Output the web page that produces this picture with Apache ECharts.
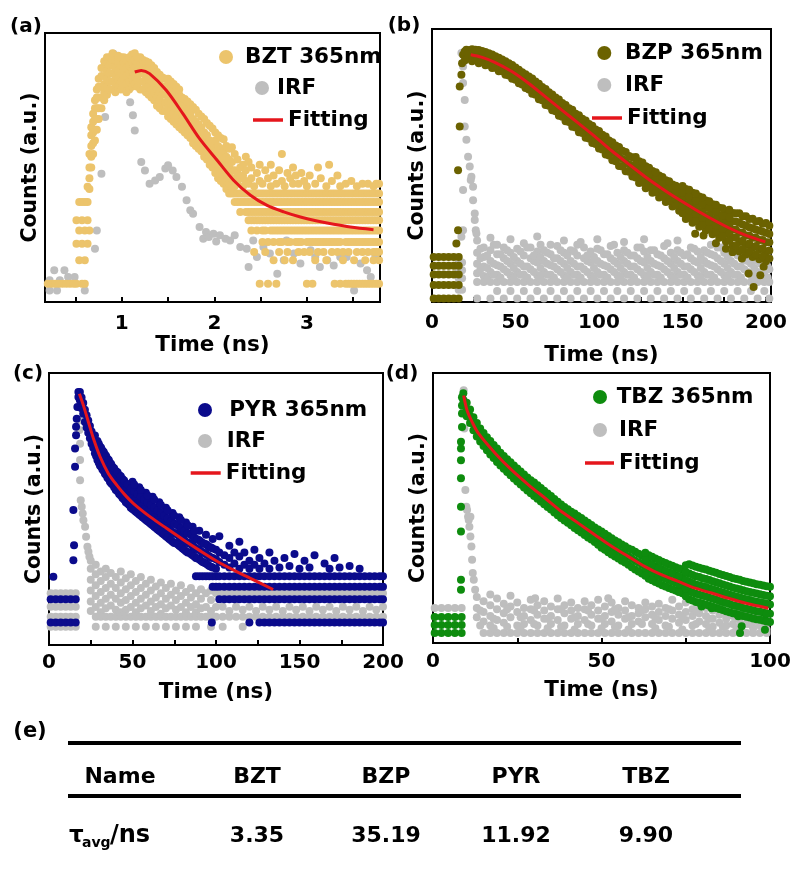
<!DOCTYPE html>
<html><head><meta charset="utf-8">
<script src="https://cdn.jsdelivr.net/npm/echarts@6/dist/echarts.min.js"></script>
<style>html,body{margin:0;padding:0;background:#fff}#c{width:793px;height:869px}</style>
</head><body><div id="c"></div>
<script>
// ---------------- DATA (x in ns, y in arbitrary counts units 0..100) ----------------
// (a) BZT
const bztTickLabels = [1, 2, 3];
const bztTicks = [0.5, 1, 1.5, 2, 2.5, 3, 3.5];
const bztCols = [
[0.20,6.8],[0.24,6.8],[0.28,6.8],[0.32,6.8],[0.36,6.8],[0.40,6.8],[0.44,6.8],[0.48,6.8],
[0.51,6.8,21.7,30.4],[0.54,15.5,26.6,37.2],[0.57,6.8,21.7,30.4,37.2],[0.60,6.8,15.5,26.6,37.2],[0.63,21.7,30.4,37.2,42.8],
[0.65,26.6,42,46,50,55],[0.67,50,54,58,62,65],[0.69,55,59,63,67,70],[0.71,60,64,68,72,75],[0.73,64,68,72,76,79],[0.75,68,72,76,80,83],[0.78,72,76,80,84,87],[0.81,75,78,81,84,87,89.5],
[0.84,77,80,83,86,89,91],[0.87,79,82,85,88,91],[0.90,79,82,85,88,90,92.5],[0.93,78,81,84,87,90],[0.96,80,83,86,89,91.5],[0.99,79,82,85,88,91],[1.02,80,83,86,89,91],[1.05,78,81,84,87,90],[1.08,79,82,85,88,91],[1.11,80,83,86,89,92],[1.14,81,84,87,90,92.5],[1.17,80,83,86,89,91],[1.20,79,82,85,88,91],[1.23,79,82,85,88,90],[1.26,78,81,84,87,89.5],[1.29,77,80,83,86,89],[1.32,76,79,82,85,88],[1.35,75,78,81,84,87],[1.38,73,76,79,82,85.5],[1.41,72,75,78,81,84.5],[1.44,71,74,77,80,83.5],[1.47,71,74,77,80,83],
[1.50,69,72,75,78,81,83],[1.53,68,71,74,77,80,82],[1.56,67,70,73,76,79,81],[1.59,66,69,72,75,78,80],[1.62,65,68,71,74,77,79],[1.65,64,67,70,73,76],[1.68,63,66,69,72,75.5],[1.71,62,65,68,71,74.5],[1.74,61,64,67,70,73.5],[1.77,59,62,65,68,72.5],[1.80,58,61,64,67,71.5],[1.83,57,60,63,66,70],[1.86,56,59,62,65,69],[1.89,54,57,60,63,68],[1.92,53,56,59,62,66.5],[1.95,51,54,57,60,65.5],[1.98,50,53,56,59,64.5],[2.01,48,51,54,57,60,63],[2.04,46,49,52,55,58,62],[2.07,45,48,51,54,57,61],[2.10,44,47,50,53,56,60.5],[2.13,42,45,48,51,54,58],[2.16,40.3,44,47,50,53,57],[2.19,40.3,43,46,49,52,57.5],[2.22,37.2,40.3,43,46,49,55],
[2.25,37.2,40.3,44,48,53],[2.28,33.5,37.2,40.3,46,50],[2.31,37.2,40.3,43,47,51],[2.34,33.5,37.2,40.3,45,49,54],[2.37,30.4,33.5,37.2,40.3,44,52],[2.40,26.6,30.4,33.5,37.2,40.3,46,50],[2.43,18.6,30.4,33.5,37.2,40.3,43],[2.46,26.6,30.4,33.5,37.2,40.3,48],[2.49,6.8,30.4,33.5,37.2,40.3,45,51],[2.52,22.3,26.6,30.4,33.5,37.2,40.3,44],[2.55,18.6,26.6,30.4,33.5,37.2,40.3,49],[2.58,6.8,22.3,30.4,33.5,37.2,40.3,46],[2.61,26.6,30.4,33.5,37.2,40.3,43,51],[2.64,15.5,22.3,26.6,30.4,33.5,37.2,40.3,47],[2.67,6.8,26.6,30.4,33.5,37.2,40.3,44],[2.70,18.6,22.3,26.6,30.4,33.5,37.2,40.3,49],[2.73,22.3,26.6,30.4,33.5,37.2,40.3,45,55],[2.76,15.5,26.6,30.4,33.5,37.2,40.3,43],[2.79,18.6,22.3,26.6,30.4,33.5,37.2,40.3,48],[2.82,22.3,26.6,30.4,33.5,37.2,40.3,46],[2.85,15.5,26.6,30.4,33.5,37.2,40.3,44,50],[2.88,22.3,26.6,30.4,33.5,37.2,40.3,47],[2.91,18.6,22.3,26.6,30.4,33.5,37.2,40.3,44],[2.94,22.3,26.6,30.4,33.5,37.2,40.3,48],[2.97,18.6,26.6,30.4,33.5,37.2,40.3,45],[3.00,6.8,22.3,26.6,30.4,33.5,37.2,40.3,43],[3.03,18.6,22.3,26.6,30.4,33.5,37.2,40.3,47],[3.06,6.8,22.3,26.6,30.4,33.5,37.2,40.3],[3.09,15.5,22.3,26.6,30.4,33.5,37.2,40.3,44],[3.12,18.6,22.3,26.6,30.4,33.5,37.2,40.3,50],[3.15,22.3,26.6,30.4,33.5,37.2,40.3,46],[3.18,18.6,22.3,26.6,30.4,33.5,37.2,40.3],[3.21,15.5,22.3,26.6,30.4,33.5,37.2,40.3,43],[3.24,22.3,26.6,30.4,33.5,37.2,40.3,51],[3.27,18.6,22.3,26.6,30.4,33.5,37.2,40.3,45],[3.30,6.8,22.3,26.6,30.4,33.5,37.2,40.3],[3.33,18.6,22.3,26.6,30.4,33.5,37.2,40.3,47],[3.36,6.8,22.3,26.6,30.4,33.5,37.2,40.3,43],[3.39,15.5,18.6,26.6,30.4,33.5,37.2,40.3],[3.42,6.8,22.3,26.6,30.4,33.5,37.2,40.3,44],[3.45,6.8,18.6,22.3,26.6,30.4,33.5,37.2,40.3],[3.48,6.8,22.3,26.6,30.4,33.5,37.2,40.3,45],[3.51,6.8,15.5,22.3,26.6,30.4,33.5,37.2,40.3],[3.54,6.8,18.6,22.3,26.6,30.4,33.5,37.2,40.3,43],[3.57,6.8,22.3,26.6,30.4,33.5,37.2,40.3],[3.60,6.8,18.6,22.3,26.6,30.4,33.5,37.2,40.3,44],[3.63,6.8,15.5,22.3,26.6,30.4,33.5,37.2,40.3],[3.66,6.8,18.6,22.3,26.6,30.4,33.5,37.2,40.3,44],[3.69,6.8,22.3,26.6,30.4,33.5,37.2,40.3],[3.72,6.8,15.5,18.6,22.3,26.6,30.4,33.5,37.2,40.3,43],[3.75,6.8,18.6,22.3,26.6,30.4,33.5,37.2,40.3,44],[3.78,6.8,15.5,18.6,22.3,26.6,30.4,33.5,37.2,40.3,44]
];
const bztIrfCols = [
[0.22,4.3,8.1],[0.27,11.8],[0.30,4.3],[0.33,8.1],[0.38,11.8],[0.42,9.3],[0.49,9.3],[0.60,4.3],[0.71,19.8],[0.73,26.6],[0.78,47.7],[0.82,68.8],[0.91,92.3],[1.09,74.3],[1.12,69.4],[1.14,63.8],[1.21,52.0],[1.25,48.9],[1.30,44.0],[1.36,45.2],[1.41,46.5],[1.47,49.6],[1.50,50.8],[1.55,48.9],[1.59,46.5],[1.65,42.8],[1.70,37.8],[1.74,34.1],[1.77,32.8],[1.84,27.9],[1.88,23.5],[1.91,26.0],[1.94,24.2],[1.99,25.4],[2.02,22.5],[2.06,24.8],[2.12,23.5],[2.17,22.9],[2.22,24.8],[2.28,20.4],[2.35,19.8],[2.37,13.0],[2.42,22.9],[2.46,16.7],[2.53,20.4],[2.60,18.0],[2.68,10.5],[2.75,15.5],[2.78,22.9],[2.86,18.0],[2.93,14.3],[3.04,19.2],[3.09,16.7],[3.14,13.0],[3.22,15.5],[3.29,13.6],[3.36,16.7],[3.43,16.7],[3.51,4.3],[3.58,14.3],[3.65,11.8],[3.69,9.3],[3.74,16.7]
];
const bztFitT = [1.14,1.21,1.30,1.48,1.66,1.84,2.03,2.21,2.39,2.57,2.75,2.93,3.11,3.29,3.47,3.72];
const bztFitV = [85.5,86.1,84.9,78.7,70.0,60.7,52.7,45.2,39.7,35.9,33.5,31.6,30.1,28.9,27.9,26.9];

// (b) BZP
const bzpTickLabels = [0, 50, 100, 150, 200];
const bzpTicks = [25, 50, 75, 100, 125, 150, 175, 200];
const bzpCols = [
[1,16.5,13.3,10.1,6.2,1.3],[4,16.5,13.3,10.1,6.2,1.3],[7,16.5,13.3,10.1,6.2,1.3],[10,16.5,13.3,10.1,6.2,1.3],[13,16.5,13.3,10.1,6.2,1.3],[16,16.5,13.3,10.1,6.2,1.3],
[14.6,21.4],[15.6,26.3,48.3],[16.6,64.3,78.9],[17.6,83.2],[18,87.5],[18.6,90.6],[19.6,88.5,91.8],[20.6,89,92.4],[21.6,89.5,92.2],
[24,88.2,90.5,92.6],[28,87.5,90,92.3],[32,86.7,89.2,91.6],[36,85.7,88.2,90.7],[40,84.5,87,89.5],[44,83.2,85.7,88.2],[48,81.8,84.3,86.8],[52,80.1,82.6,85.1],[56,78.4,80.9,83.4],[60,76.3,79.1,81.9],[64,74.3,77.1,79.9],[68,72.2,75.1,78],[72,70.2,73.1,76],[76,68.2,71.2,74.2],[80,66.2,69.2,72.2],[84,64.2,67.3,70.4],[88,62.2,65.3,68.4],[92,60.2,63.3,66.5],[96,58.2,61.4,64.6],[100,56.2,59.4,62.6],[104,54,57.3,60.6],[108,51.9,55.2,58.5],[112,49.8,53.3,56.8],[116,47.9,51.4,54.9],[120,46,49.5,53],
[124,43.6,46.3,48.9,51.6],[128,41.7,44.4,47,49.7],[132,40,42.7,45.3,48],[136,38.3,41,43.6,46.3],[140,36.6,39.3,41.9,44.6],[144,35,37.7,40.3,43],[148,33.4,36.1,38.7,41.4],
[152,30.4,33.2,35.9,38.7,41.4],[156,29,31.8,34.5,37.3,40],[160,27.6,30.4,33.1,35.9,38.6],[164,26.2,29,31.7,34.5,37.2],[168,24.8,27.6,30.3,33.1,35.8],[172,23.5,26.3,29,31.8,34.5],[176,22.2,25,27.7,30.5,33.2],[180,20.6,23.6,26.6,29.6,32.6],
[184,18.5,22,25.5,29,32.5],[188,17.4,20.9,24.4,27.9,31.4],[192,16.5,20,23.5,27,30.5],[196,15.7,19.2,22.7,26.2,29.7],[200,14.9,18.4,21.9,25.4,28.9],
[157.6,25],[162.6,24.4],[170,21.5],[176,19.5],[180,18.2],[185.6,15.9],[189.6,10.4],[192.6,5.5],[196.6,9.8],[198.6,12.9],[199.6,17.7]
];
const bzpColsMid = [
[26,88.8,90.3,92.4],[30,87.9,89.6,91.9],[34,86.9,88.7,91.1],[38,85.8,87.6,90.0],[42,84.5,86.4,88.8],[46,83.0,85.0,87.5],[50,81.4,83.5,85.9],[54,79.7,81.8,84.2],[58,77.8,80.0,82.6],[62,75.9,78.1,80.8],[66,73.9,76.1,78.8],[70,71.9,74.1,76.8],[74,69.9,72.2,74.9],[78,67.9,70.2,72.9],[82,65.9,68.3,71.0],[86,63.9,66.3,69.0],[90,61.9,64.3,67.1],[94,59.9,62.4,65.2],[98,57.9,60.4,63.2],[102,55.9,58.4,61.3],[106,53.7,56.3,59.2],[110,51.6,54.3,57.3],[114,49.6,52.4,55.4],[118,47.7,50.5,53.5],
[122,45.6,48.1,50.6,53.1],[126,43.8,46.2,48.6,51.1],[130,42.0,44.4,46.8,49.2],[134,40.3,42.7,45.1,47.5],[138,38.6,41.0,43.4,45.8],[142,37.0,39.4,41.8,44.2],[146,35.4,37.8,40.2,42.6],
[150,32.5,35.0,37.5,40.0,42.5],[154,31.1,33.6,36.1,38.6,41.1],[158,29.7,32.2,34.7,37.2,39.7],[162,28.3,30.8,33.3,35.8,38.3],[166,26.9,29.4,31.9,34.4,36.9],[170,25.6,28.1,30.6,33.1,35.6],[174,24.3,26.8,29.3,31.8,34.3],[178,22.6,25.4,28.2,31.0,33.8],[182,20.5,23.5,26.5,29.5,32.5],[186,19.4,22.4,25.4,28.4,31.4],[190,18.4,21.4,24.4,27.4,30.4],[194,17.5,20.5,23.5,26.5,29.5],[198,16.7,19.7,22.7,25.7,28.7],[202,15.9,18.9,21.9,24.9,27.9]
];
const bzpIrfCols = [
[16,14.5,11.6,8.7,4.5],[18,14.5,11.6,8.7,4.5],
[17.6,91.2,23.9],[18.6,86.3,80.2,41,26.3],[19.6,74,64.3],[20.6,59.4],[21.6,53.2],[22.6,49.6],[23.2,44.7],[23.6,45.9],[24.6,42.2,37.3],[25.6,32.4,30],[26.2,26.3],[26.6,25.1],
[27,1.3,7.3,10.5,14,18,22.5],[31,7.3,9.5,13,16.5,20],[35,1.3,7.3,11,15,19,23.5],[39,4.0,7.3,10,13.5,17.5,21],[43,1.3,7.3,12,16,20],[47,4.0,7.3,9.8,14,18,23],[51,1.3,7.3,11,15,19.5],[55,4.0,7.3,10,13,17,21.5],[59,1.3,7.3,12,16,20],[63,4.0,7.3,9.8,14.5,18.5,24],[67,1.3,7.3,11,15,19],[71,4.0,7.3,10,13.5,17.5,21],[75,1.3,7.3,12,16,20.5],[79,4.0,7.3,9.8,14,18,22.5],[83,1.3,7.3,11,15,19],[87,4.0,7.3,10,13,17,21],[91,1.3,7.3,12,16,20],[95,4.0,7.3,9.8,14.5,18.5],[99,1.3,7.3,11,15,19.5,23],[103,4.0,7.3,10,13.5,17.5],[107,1.3,7.3,12,16,20.5],[111,4.0,7.3,9.8,14,18],[115,1.3,7.3,11,15,19,22],[119,4.0,7.3,10,13,17],[123,1.3,7.3,12,16,20],[127,4.0,7.3,9.8,14.5,18.5,23],[131,1.3,7.3,11,15,19],[135,4.0,7.3,10,13.5,17.5],[139,1.3,7.3,12,16,20.5],[143,4.0,7.3,9.8,14,18],[147,1.3,7.3,11,15,19,22.5],[151,4.0,7.3,10,13,17],[155,1.3,7.3,12,16,20],[159,4.0,7.3,9.8,14.5,18.5],[163,1.3,7.3,11,15,19],[167,4.0,7.3,10,13.5,17.5,21],[171,1.3,7.3,12,16,20],[175,4.0,7.3,9.8,14,18],[179,1.3,7.3,11,15,19],[183,4.0,7.3,10,13,17],[187,1.3,7.3,12,15.5],[191,4.0,7.3,9.8,14,18],[195,1.3,7.3,11,15],[199,4.0,7.3,10,13.5,17],[202,1.3,7.3,12,16]
];
const bzpIrfColsMid = [
[29,12,16,19.5],[33,8.7,12.5,17],[37,10,14,21],[41,9,13,17.5],[45,11,15,19],[49,8.7,12.5,16.5],[53,10,14,18.5],[57,9,13,20],[61,11,15,17],[65,8.7,12.5,16.5,21],[69,10,14,18],[73,9,13,16],[77,11,15,19],[81,8.7,12.5,17],[85,10,14,18.5],[89,9,13,22],[93,11,15,17],[97,8.7,12.5,16.5],[101,10,14,19],[105,9,13,17.5],[109,11,15,21],[113,8.7,12.5,16.5],[117,10,14,18],[121,9,13,17],[125,11,15,20],[129,8.7,12.5,16.5],[133,10,14,19],[137,9,13,17],[141,11,15,21.5],[145,8.7,12.5,16.5],[149,10,14,18],[153,9,13,17.5],[157,11,15,19.5],[161,8.7,12.5,16.5],[165,10,14,18],[169,9,13,17],[173,11,15,20],[177,8.7,12.5,16.5],[181,10,14,18.5],[185,9,13,17],[189,11,15],[193,8.7,12.5,16.5],[197,10,14],[201,9,13]
];
const bzpFitT = [23.2,29.6,37.6,47.6,57.6,67.6,77.6,87.6,97.6,107.6,117.6,127.6,137.6,147.6,157.6,167.6,177.6,187.6,199.6];
const bzpFitV = [90.6,89.7,87.8,84.5,80.2,75.3,70.4,65.5,60.6,55.4,50.6,45.9,41.6,37.6,33.9,30.4,27.2,24.5,22.0];

// (c) PYR
const pyrTickLabels = [0, 50, 100, 150, 200];
const pyrTicks = [25, 50, 75, 100, 125, 150, 175];
const pyrCols = [
[1,16.8,8.3],[4,16.8,8.3],[7,16.8,8.3],[10,16.8,8.3],[13,16.8,8.3],[16,16.8,8.3],[2.6,25.1],
[14.6,31.2,49.6],[15,36.7],[15.6,65.5,72.2],[16.2,77.1,80.2],[16.6,83.2],[17,87.5],[17.6,91.2,93],
[18.5,90,93],[19.5,87,91],[20.5,85,89],[21.5,82,86.5],[22.5,80,84.5],[23.5,78,82.5],[24.5,76,80.5],[25.5,74,78.5],[26.5,72.5,76.5],[27.5,70.5,74.5,77],[29,68,72,75],[30.5,66,70,73],[32,64.5,68,71.5],[33.5,63,66.5,70],[35,61.5,65,68.5],[36.5,60,63.5,67],[38,59,62,65.5],[40,57,60.5,64],[42,55.5,59,62.5],[44,54,57.5,61],[46,52.5,56,59.5],[48,51.5,55,58.5],[50,50,53.5,57,60],[52,49,52.5,56],[54,48,51.5,55,58],[56,47,50.5,54],[58,46,49.5,53,56],[60,45,48.5,52],[62,44,47.5,51,54.5],[64,43,46.5,50],[66,42,45.5,49,52.5],[68,41,44.5,48],[70,40,43.5,47,50.5],[72,39,42.5,46],[74,38,41.5,45,48.5],[76,37.5,41,44.5],[78,36.5,40,43.5,47],[80,35.5,39,42.5],[82,34.5,38,41.5,45],[84,34,37.5,41],[86,33,36.5,40,43.5],[88,25.3,32,35.5,39],[90,25.3,31.5,35,38.5,42],[92,25.3,30.5,34,37.5],[94,25.3,30,33.5,37,40.5],[96,25.3,29,32.5,36],[98,21.4,25.3,28.5,32,35.5,39],[100,21.4,25.3,28,31.5,35],[102,16.8,21.4,25.3,30.5,34,40],[105,16.8,21.4,25.3,29.5,33],[108,16.8,21.4,25.3,28.5,32,36.5],[111,16.8,21.4,25.3,30,34],[114,16.8,21.4,25.3,28,32.5,38],[117,16.8,21.4,25.3,29.5,34],[120,8.3,16.8,21.4,25.3,28,31],[123,16.8,21.4,25.3,29.5,35],[126,8.3,16.8,21.4,25.3,28,32],[129,8.3,16.8,21.4,25.3,30],[132,8.3,16.8,21.4,25.3,28,34],[135,8.3,16.8,21.4,25.3,31],[138,8.3,16.8,21.4,25.3,28.5],[141,8.3,16.8,21.4,25.3,32],[144,8.3,16.8,21.4,25.3,29],[147,8.3,16.8,21.4,25.3,33.5],[150,8.3,16.8,21.4,25.3,28],[153,8.3,16.8,21.4,25.3,31],[156,8.3,16.8,21.4,25.3,28.5],[159,8.3,16.8,21.4,25.3,33],[162,8.3,16.8,21.4,25.3],[165,8.3,16.8,21.4,25.3,30],[168,8.3,16.8,21.4,25.3,28],[171,8.3,16.8,21.4,25.3,32],[174,8.3,16.8,21.4,25.3,28.5],[177,8.3,16.8,21.4,25.3],[180,8.3,16.8,21.4,25.3,29],[183,8.3,16.8,21.4,25.3],[186,8.3,16.8,21.4,25.3,28],[189,8.3,16.8,21.4,25.3],[192,8.3,16.8,21.4,25.3],[195,8.3,16.8,21.4,25.3],[198,8.3,16.8,21.4,25.3],[200,8.3,16.8,21.4,25.3],[97.5,8.3]
];
const pyrColsMid = [
[28.2,69.5,73.5],[29.8,67,71,74],[31.2,65.5,69,72.5],[32.8,64,67.5,71],[34.2,62.5,66,69.5],[35.8,61,64.5,68],[37.2,59.5,63,66.5],[39,58,61.5,65],[41,56.5,60,63.5],[43,55,58.5,62],[45,53.5,57,60.5],[47,52,55.5,59],[49,50.5,54,57.5],[51,49.5,53,56.5,59],[53,48.5,52,55.5],[55,47.5,51,54.5,57],[57,46.5,50,53.5],[59,45.5,49,52.5,55],[61,44.5,48,51.5],[63,43.5,47,50.5,53.5],[65,42.5,46,49.5],[67,41.5,45,48.5,51.5],[69,40.5,44,47.5],[71,39.5,43,46.5,49.5],[73,38.5,42,45.5],[75,37.5,41,44.5,47.5],[77,37,40.5,44],[79,36,39.5,43,46],[81,35,38.5,42],[83,34,37.5,41,44],[85,33.5,37,40.5],[87,32.5,36,39.5,42],[89,31.8,35.2,38.8],[91,31,34.5,38],[93,30.2,33.8,37.2],[95,29.5,33,36.5],[97,28.8,32.2,35.8]
];
const pyrIrfCols = [
[1,19,14.1,10.4,6.7],[4,19,14.1,10.4,6.7],[7,19,14.1,10.4,6.7],[10,19,14.1,10.4,6.7],[13,19,14.1,10.4,6.7],[16,19,14.1,10.4,6.7],
[18,82.6],[18.2,79],[18.6,74,68,60.6],[19,53.2],[19.6,50.8],[20.2,48.3],[20.6,45.9],[21.6,43.5],[22.2,39.8],[23,36.1],[23.6,34.3],[24.2,32.4],
[25,31,28,24,20,16,12.5],[28,29.5,26,22,18,14,10.4,6.7],[31,27,23.5,19.5,15.5,12,10.4],[34,28,25,21,17,13.5,10.4,6.7],[37,26.5,22.5,18.5,14.5,10.4],[40,25,21,17,13,10.4,6.7],[43,27,23,19,15.5,12,10.4],[46,24.5,20.5,16.5,13,10.4,6.7],[49,26,22,18,14,10.4],[52,23.5,19.5,15.5,12,10.4,6.7],[55,25,21,17,13.5,10.4],[58,22.5,18.5,14.5,10.4,6.7],[61,24,20,16,12.5,10.4],[64,21.5,17.5,14,10.4,6.7],[67,23,19,15,11.5,10.4],[70,21,17,13.5,10.4,6.7],[73,22.5,18.5,14.5,10.4],[76,20,16.5,13,10.4,6.7],[79,22,18,14,10.4],[82,19.5,15.5,12,10.4,6.7],[85,21,17.5,14,10.4],[88,19,15,12,10.4,6.7],[91,20.5,17,13.5,10.4],[94,19,14,10.4],[97,20,16.5,12.5,10.4,6.7],[100,19,14,10.4],
[104,19,14.1,10.4,6.7],[108,19,12.5,10.4],[112,19,14.1,10.4],[116,19,13,10.4,6.7],[120,19,14.1,10.4],[124,19,12.5,10.4],[128,19,14.1,10.4],[132,19,13,10.4],[136,19,14.1,10.4],[140,19,12.5,10.4],[144,19,14.1,10.4],[148,19,13,10.4],[152,19,14.1,10.4],[156,19,12.5,10.4],[160,19,14.1,10.4],[164,19,13,10.4],[168,19,14.1,10.4],[172,19,12.5,10.4],[176,19,14.1,10.4],[180,19,13,10.4],[184,19,14.1,10.4],[188,19,12.5,10.4],[192,19,14.1,10.4],[196,19,13,10.4],[200,19,14.1,10.4]
];
const pyrFitT = [18.2,20.6,23.6,26.6,30.6,35.6,40.6,45.6,50.6,60.6,70.6,80.6,90.6,100.6,110.6,120.6,134.2];
const pyrFitV = [92.4,88.1,82.0,75.9,69.2,63.0,58.8,55.1,52.0,47.1,42.8,38.6,34.6,30.8,27.5,24.5,20.4];

// (d) TBZ
const tbzTickLabels = [0, 50, 100];
const tbzTicks = [25, 50, 75];
const tbzCols = [
[0.5,9.6,6.7,3.7],[2.5,9.6,6.7,3.7],[4.5,9.6,6.7,3.7],[6.5,9.6,6.7,3.7],[8.5,9.6,6.7,3.7],
[8.3,19.7,23.4,41.3,50.5,61,67.7,72,74.5],[8.6,80,85,88,91],[9,90,92.5],
[10,84,86.5,89],[12,78.8,81.2,83.6],[14,74.6,77,79.4],[16,71.4,73.8,76.2],[18,68.5,70.9,73.3],[20,65.7,68.1,70.5],[22,63.3,65.7,68.1],[24,60.9,63.3,65.7],[26,58.7,61.1,63.5],[28,56.5,58.9,61.3],[30,54.4,56.9,59.4],[32,52.4,54.9,57.4],[34,50.4,52.9,55.4],[36,48.3,50.8,53.3],[38,46.3,48.8,51.3],[40,44.5,47,49.5],[42,42.6,45.3,48],[44,40.9,43.6,46.3],[46,39.1,41.8,44.5],[48,37.4,40.1,42.8],[50,35.3,38.3,41.3],[52,33.6,36.6,39.6],[54,32,35,38],[56,30.5,33.5,36.5],[58,29,32,35],[60,27.2,30.5,33.8],[62,25.7,29,32.3],
[64,23.8,26.7,29.6,32.5],[66,22.6,25.5,28.4,31.3],[68,21.4,24.3,27.2,30.1],[70,20.4,23.3,26.2,29.1],[72,19.4,22.3,25.2,28.1],[74,18.4,21.3,24.2,27.1],
[76,16.2,19.2,22.7,25.7,29.2],[78,15.2,18.2,21.7,24.7,28.2],[80,14.5,17.5,21,24,27.5],[82,13.8,16.8,20.3,23.3,26.8],[84,13,16,19.5,22.5,26],[86,12.2,15.2,18.7,21.7,25.2],[88,11.4,14.4,17.9,20.9,24.4],[90,10.7,13.7,17.2,20.2,23.7],[92,10,13,16.5,19.5,23],[94,9.4,12.4,15.9,18.9,22.4],[96,8.8,11.8,15.3,18.3,21.8],[98,8.3,11.3,14.8,17.8,21.3],[100,7.8,10.8,14.3,17.3,20.8],
[72.8,19.1],[79.7,13.5],[82.7,12.9],[90.6,9.9],[91.1,3.7],[91.6,6.2],[98.5,8.6,4.9]
];
const tbzColsMid = [
[11,81.5,84,86.5],[13,76.5,79,81.5],[15,73.0,75.4,77.8],[17,69.8,72.3,74.8],[19,67.0,69.5,72.0],[21,64.5,66.9,69.3],[23,62.1,64.5,66.9],[25,59.8,62.2,64.6],[27,57.6,60.0,62.4],[29,55.5,57.9,60.3],[31,53.4,55.9,58.4],[33,51.4,53.9,56.4],[35,49.4,51.9,54.4],[37,47.3,49.8,52.3],[39,45.4,47.9,50.4],[41,43.6,46.1,48.6],[43,41.8,44.4,47.0],[45,40.0,42.7,45.4],[47,38.3,41.0,43.7],[49,36.4,39.2,42.0],[51,34.5,37.5,40.5],[53,32.8,35.8,38.8],[55,31.3,34.3,37.3],[57,29.8,32.8,35.8],[59,28.1,31.3,34.5],[61,26.5,29.8,33.1],
[63,24.9,27.9,30.9,33.4],[65,23.2,26.1,29.0,31.9],[67,22.0,24.9,27.8,30.7],[69,20.9,23.8,26.7,29.6],[71,19.9,22.8,25.7,28.6],[73,18.9,21.8,24.7,27.6],
[75,17.3,20.3,23.3,26.3,28.8],[77,15.7,18.7,22.2,25.2,28.7],[79,14.9,17.9,21.4,24.4,27.9],[81,14.2,17.2,20.7,23.7,27.2],[83,13.4,16.4,19.9,22.9,26.4],[85,12.6,15.6,19.1,22.1,25.6],[87,11.8,14.8,18.3,21.3,24.8],[89,11.0,14.0,17.5,20.5,24.0],[91,10.4,13.4,16.9,19.9,23.4],[93,9.7,12.7,16.2,19.2,22.7],[95,9.1,12.1,15.6,18.6,22.1],[97,8.6,11.6,15.1,18.1,21.6],[99,8.0,11.0,14.5,17.5,21.0]
];
const tbzIrfCols = [
[0.5,13],[2.5,13],[4.5,13],[6.5,13],[8.5,13],
[9.1,93.6,89.9,86.2],[9.3,79.4],[9.6,56.7],[9.9,50.5],[10.1,49.3],[10.4,46.8],[10.6,45.6],[10.8,43.1],[11.1,39.4,46.8],[11.4,35.7],[11.6,30.8],[11.8,25.9],[12.1,23.4],[12.5,19.7],
[13,17,13,9.5],[15,15.5,11.5,8,3.7],[17,18,14,10,6.5,3.7],[19,16.5,12.5,8.5,3.7],[21,14.5,11,7.5,3.7],[23,17.5,13.5,9.5,3.7],[25,15,11.5,6.5,3.7],[27,13,10,7,3.7],[29,16,12.5,8.5,3.7],[30.3,16.6],[31,14,10.5,6.5,3.7],[33,15.5,12,9,3.7],[35,13.5,10,7,3.7],[37,16.5,12.5,8.5,3.7],[39,14,11,6.5,3.7],[41,15,12,9,3.7],[43,13,10,7,3.7],[45,15.5,12.5,8.5,3.7],[47,14,10.5,6.5,3.7],[49,16,12,9,3.7],[51,13.5,10,7,3.7],[52,16.6],[53,15,11.5,8,3.7],[55,13,10.5,6.5,3.7],[57,15.5,12,9,3.7],[59,14,10,7,3.7],[61,13,11,8,3.7],[63,15,12.5,9.5,3.7],[65,13.5,10.5,7,3.7],[67,14.5,11.5,8.5,3.7],[69,13,10,6.5,3.7],[71,16,12,9,3.7],[73,13.5,10.5,7.5,3.7],[75,15,11.5,8.5,3.7],[77,12.5,10,6.5,3.7],[79,14,11,8,3.7],[81,13,10,7,3.7],[83,12,9,6,3.7],[85,13.5,10.5,7.5,3.7],[87,11.5,9,6.5,3.7],[89,12.5,10,7,3.7],[91,11,8.5,6,3.7],[93,12,9.5,7,3.7],[95,10.5,8,5.5,3.7],[97,11.5,9,6.5,3.7],[99,10,7.5,5,3.7]
];
const tbzIrfColsMid = [
[14,12,6.5],[18,9,5.5],[22,12.5,6],[26,9.5,5],[30,12,7],[34,9,5.5],[38,12.5,6],[42,9.5,5],[46,12,7],[50,9,5.5],[54,12.5,6],[58,9.5,5],[62,12,7],[66,9,5.5],[70,12.5,6],[74,9.5,5],[78,12,7],[82,9,5.5],[86,11,6],[90,9.5,5],[94,11,7],[98,9,5.5]
];
const tbzFitT = [9.1,10.1,11.6,13.5,18.5,23.4,28.4,33.3,38.2,43.2,48.1,53.1,58.0,62.9,67.9,72.8,77.8,82.7,87.6,92.6,99.5];
const tbzFitV = [91.7,86.2,81.9,77.6,70.2,64.0,58.5,53.6,48.6,44.3,40.0,35.7,32.0,28.3,25.2,22.8,20.3,18.5,16.6,14.8,12.9];

// (e) table
const tableHeader = ['Name', 'BZT', 'BZP', 'PYR', 'TBZ'];
const tableTau = ['3.35', '35.19', '11.92', '9.90'];

// ---------------- LAYOUT / STYLE ----------------
const F = "'DejaVu Sans', Verdana, sans-serif";
const GREY = '#BEBEBE', RED = '#E5161C';
// leg: [circle-left or line-left, centreY, itemWidth, itemHeight]
const panels = [
  {grid:{left:45,top:33,width:335,height:269}, min:0.17, max:3.79, ticks:bztTicks, labels:bztTickLabels, lm:12, ng:30, color:'#ECC46C', sample:'BZT 365nm', cols:[bztCols], irf:[bztIrfCols], fitT:bztFitT, fitV:bztFitV, tag:'(a)', tagPos:[26,27], leg:[[219,57,28,14],[255,88,20,14],[253,120,30,3.5]]},
  {grid:{left:432,top:29,width:339,height:273}, min:0, max:203, ticks:bzpTicks, labels:bzpTickLabels, lm:11, ng:42, color:'#6B6200', sample:'BZP 365nm', cols:[bzpCols,bzpColsMid], irf:[bzpIrfCols,bzpIrfColsMid], fitT:bzpFitT, fitV:bzpFitV, tag:'(b)', tagPos:[404,26], leg:[[597.3,53,31.4,14],[597.3,85,31.4,14],[592,118,30,3.5]]},
  {grid:{left:49,top:373,width:334,height:272}, min:0, max:200, ticks:pyrTicks, labels:pyrTickLabels, lm:8, ng:36, color:'#0B0B8C', sample:'PYR 365nm', cols:[pyrCols,pyrColsMid], irf:[pyrIrfCols], fitT:pyrFitT, fitV:pyrFitV, tag:'(c)', tagPos:[28,374], leg:[[198,410,38.6,14],[198,441,33.4,14],[190.7,473,30,3.5]]},
  {grid:{left:433,top:373,width:337,height:270}, min:0, max:100, ticks:tbzTicks, labels:tbzTickLabels, lm:9, ng:36, color:'#0E8C0E', sample:'TBZ 365nm', cols:[tbzCols,tbzColsMid], irf:[tbzIrfCols,tbzIrfColsMid], fitT:tbzFitT, fitV:tbzFitV, tag:'(d)', tagPos:[402,374], leg:[[593,397,23.4,14],[593,430,28,14],[585,463,29,3.5]]}
];

function colsToPoints(list){ const out=[]; list.forEach(cols=>cols.forEach(c=>{ for(let k=1;k<c.length;k++) out.push([c[0], c[k]]); })); return out; }
function zip(t, v){ return t.map((x,i)=>[x, v[i]]); }

const grids=[], xAxes=[], yAxes=[], series=[], legends=[], graphics=[];
const bold = {fontFamily:F, fontWeight:'bold', color:'#000'};
panels.forEach((p,i)=>{
  grids.push(Object.assign({show:true, borderColor:'#000', borderWidth:2, backgroundColor:'transparent', containLabel:false, outerBoundsMode:'none'}, p.grid));
  xAxes.push({gridIndex:i, type:'value', min:p.min, max:p.max,
    axisLine:{show:true, onZero:false, lineStyle:{color:'#000', width:2}},
    axisTick:{show:true, inside:true, length:5, lineStyle:{color:'#000', width:2}, customValues:p.ticks},
    axisLabel:Object.assign({show:true, customValues:p.labels, margin:p.lm, fontSize:20}, bold),
    splitLine:{show:false},
    name:'Time (ns)', nameLocation:'middle', nameGap:p.ng, nameTextStyle:Object.assign({fontSize:21.5}, bold)});
  yAxes.push({gridIndex:i, type:'value', min:0, max:100,
    axisLine:{show:false}, axisTick:{show:false}, axisLabel:{show:false}, splitLine:{show:false},
    name:'Counts (a.u.)', nameLocation:'middle', nameGap:4, nameTextStyle:Object.assign({fontSize:20.5}, bold)});
  series.push({type:'scatter', name:'IRF', xAxisIndex:i, yAxisIndex:i, data:colsToPoints(p.irf), symbolSize:8, itemStyle:{color:GREY, opacity:1}, z:2});
  series.push({type:'scatter', name:p.sample, xAxisIndex:i, yAxisIndex:i, data:colsToPoints(p.cols), symbolSize:8, itemStyle:{color:p.color, opacity:1}, z:3});
  series.push({type:'line', name:'Fitting', xAxisIndex:i, yAxisIndex:i, data:zip(p.fitT, p.fitV), smooth:0.3, showSymbol:false, symbol:'none', lineStyle:{color:RED, width:3}, itemStyle:{color:RED}, z:5});
  const names=[p.sample,'IRF','Fitting'], icons=['circle','circle','rect'], cols=[p.color, GREY, RED];
  p.leg.forEach((l,k)=>{
    legends.push({left:l[0], top:l[1]-11, itemWidth:l[2], itemHeight:l[3], padding:0, itemGap:0, selectedMode:false,
      data:[{name:names[k], icon:icons[k], itemStyle:{color:cols[k], opacity:1}}],
      textStyle:Object.assign({fontSize:21.5, lineHeight:22}, bold)});
  });
  graphics.push({type:'text', x:p.tagPos[0], y:p.tagPos[1], style:{text:p.tag, fill:'#000', font:'bold 20px '+F, align:'center', verticalAlign:'middle'}});
});

// table (e)
graphics.push({type:'text', x:30, y:732, style:{text:'(e)', fill:'#000', font:'bold 21px '+F, align:'center', verticalAlign:'middle'}});
graphics.push({type:'line', shape:{x1:68,y1:743,x2:741,y2:743}, style:{stroke:'#000', lineWidth:4}});
graphics.push({type:'line', shape:{x1:68,y1:796,x2:741,y2:796}, style:{stroke:'#000', lineWidth:4}});
const colX = [120, 257, 386, 516, 646];
tableHeader.forEach((t,k)=>graphics.push({type:'text', x:colX[k], y:777, style:{text:t, fill:'#000', font:'bold 22px '+F, align:'center', verticalAlign:'middle'}}));
tableTau.forEach((t,k)=>graphics.push({type:'text', x:colX[k+1], y:836, style:{text:t, fill:'#000', font:'bold 22px '+F, align:'center', verticalAlign:'middle'}}));
graphics.push({type:'text', x:69, y:836, style:{text:'τ', fill:'#000', font:'bold 23px '+F, align:'left', verticalAlign:'middle'}});
graphics.push({type:'text', x:82, y:843, style:{text:'avg', fill:'#000', font:'bold 14px '+F, align:'left', verticalAlign:'middle'}});
graphics.push({type:'text', x:110, y:836, style:{text:'/ns', fill:'#000', font:'bold 24px '+F, align:'left', verticalAlign:'middle'}});

const chart = echarts.init(document.getElementById('c'), null, {renderer:'canvas'});
chart.setOption({
  animation:false, backgroundColor:'#fff',
  textStyle:{fontFamily:F},
  grid:grids, xAxis:xAxes, yAxis:yAxes, series:series, legend:legends, graphic:graphics
});
</script></body></html>
